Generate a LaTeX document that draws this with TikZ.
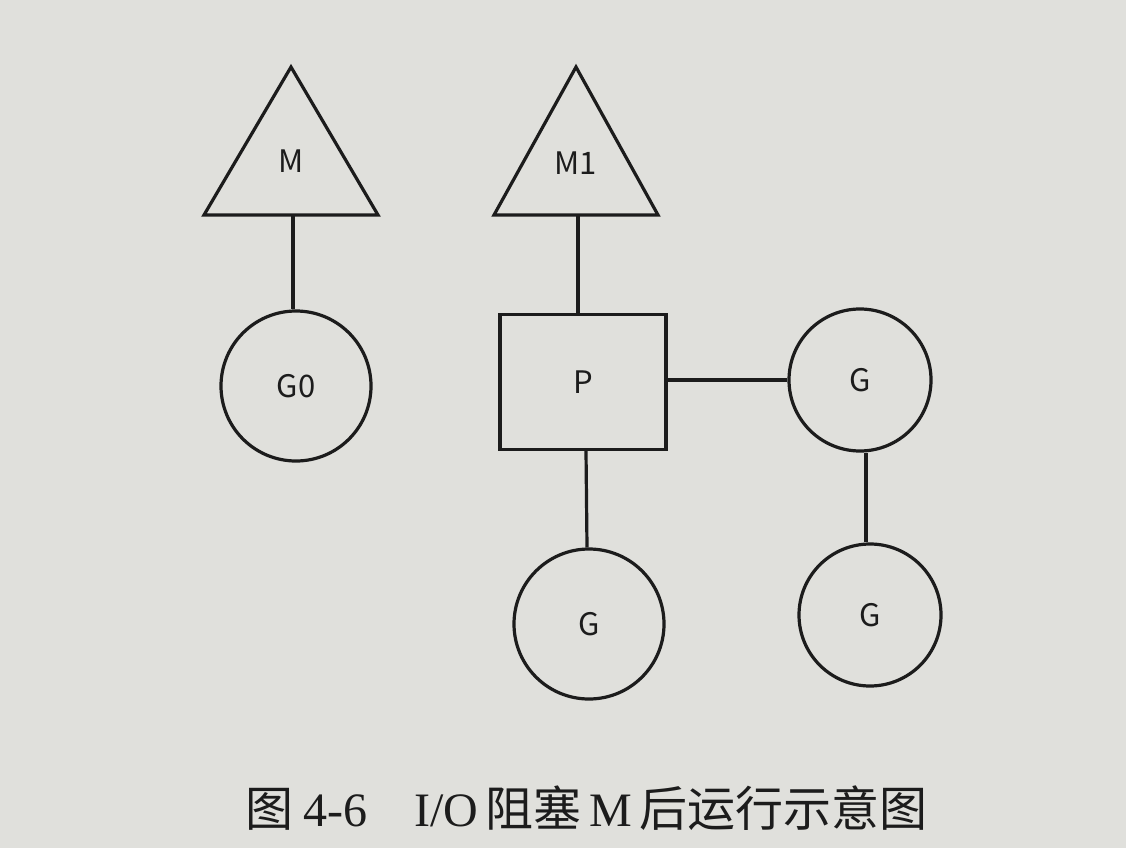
\documentclass[tikz,border=0pt]{standalone}
\usepackage{fontspec}
\setmainfont{Liberation Serif}
\newfontfamily\cjk{Noto Sans CJK SC}
\definecolor{paper}{RGB}{224,224,220}
\definecolor{ink}{RGB}{28,28,28}
\begin{document}
\begin{tikzpicture}[x=1pt,y=-1pt,
  shp/.style={draw=ink,line width=3.2pt},
  gnode/.style={shp,circle,minimum size=150pt,inner sep=0pt,font=\cjk\fontsize{31}{34}\selectfont,text=ink},
  pnode/.style={shp,rectangle,minimum width=166pt,minimum height=135pt,inner sep=0pt,font=\cjk\fontsize{31}{34}\selectfont,text=ink},
  lbl/.style={font=\cjk\fontsize{31}{34}\selectfont,text=ink},
  conn/.style={draw=ink,line width=3.2pt}]
\fill[paper] (0,0) rectangle (1126,848);
\useasboundingbox (0,0) rectangle (1126,848);
% Triangle M
\coordinate (mA) at (291,67);
\coordinate (mL) at (204,215);
\coordinate (mR) at (378,215);
\coordinate (mB) at (293,215);
\draw[shp,line join=miter] (mA) -- (mL) -- (mR) -- cycle;
\node[lbl] (mlbl) at (291,161) {M};
% Triangle M1
\coordinate (m1A) at (576,67);
\coordinate (m1L) at (494,215);
\coordinate (m1R) at (658,215);
\coordinate (m1B) at (578,215);
\draw[shp,line join=miter] (m1A) -- (m1L) -- (m1R) -- cycle;
\node[lbl] (m1lbl) at (576,163) {M1};
% Nodes
\node[gnode] (g0) at (296,386) {G0};
\node[pnode] (p) at (583,382) {P};
\node[gnode,minimum size=142pt] (gr) at (860,380) {G};
\node[gnode,minimum size=142pt] (grb) at (870,615) {G};
\node[gnode] (gb) at (589,624) {G};
% Connectors
\draw[conn] (mB) -- (g0.north -| mB);
\draw[conn] (m1B) -- (p.north -| m1B);
\draw[conn] (p.east |- gr.west) -- (gr.west);
\draw[conn] (p.south -| gb.north) ++(-3,0) -- ([xshift=-2pt]gb.north);
\draw[conn] (gr.south -| 866,0) -- (grb.north -| 866,0);
% Caption
\node[anchor=base west,text=ink,inner sep=0pt] (cap) at (245,826)
  {\fontsize{48}{52}\selectfont{\cjk 图}\hspace{10pt}4-6\hspace{47pt}I/O\hspace{7pt}{\cjk 阻塞}\hspace{8pt}M\hspace{8pt}{\cjk 后运行示意图}};
\end{tikzpicture}
\end{document}
